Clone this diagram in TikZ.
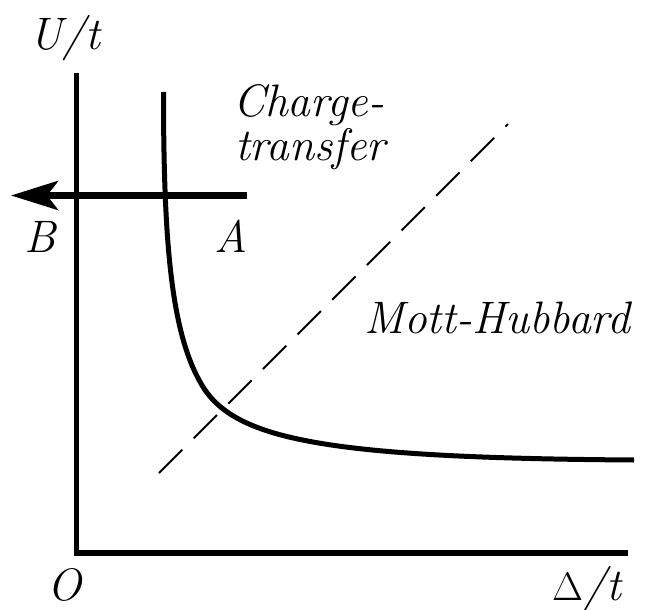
\documentclass[tikz,border=0pt]{standalone}
\usepackage{fontspec}
\usetikzlibrary{arrows.meta}
\begin{document}
\begin{tikzpicture}[x=1pt,y=-1pt,
  lbl/.style={inner sep=0pt, anchor=base west, font=\fontsize{45.5}{50}\selectfont\itshape},
  axisline/.style={line width=5.5pt, line cap=butt, line join=miter},
  curveline/.style={line width=5pt},
  boundary/.style={line width=2pt, dash pattern=on 33pt off 16pt},
  pathline/.style={line width=7pt, -{Stealth[length=47pt,width=29pt,inset=11pt]}}]
\useasboundingbox (0,0) rectangle (651,610);
% axes
\coordinate (ytop) at (76.5,73);
\coordinate (orig) at (76.5,553);
\coordinate (xend) at (628,553);
\draw[axisline] (ytop) -- (orig) -- (xend);
% crossover curve
\coordinate (c0) at (163.5,92);
\coordinate (c1) at (205,390);
\coordinate (c2) at (634,460);
\draw[curveline] (c0) .. controls (163.5,250) and (172,340) .. (c1)
  .. controls (240,440) and (330,458) .. (c2);
% dashed boundary
\coordinate (dA) at (159,473);
\coordinate (dB) at (508,124);
\draw[boundary] (dA) -- (dB);
% arrow A -> B
\coordinate (pA) at (247,195.5);
\coordinate (pB) at (11,195.5);
\draw[pathline] (pA) -- (pB);
% labels
\node[lbl] (lU) at (29,50) {U/t};
\node[lbl] (lB) at (24,252) {B};
\node[lbl] (lA) at (214,252) {A};
\node[lbl] (lC) at (233,117) {Charge-};
\node[lbl] (lT) at (235,160) {transfer};
\node[lbl] (lM) at (364,333) {Mott-Hubbard};
\node[lbl] (lO) at (47,600) {O};
\node[lbl, anchor=base] (lD) at (587,600) {{\upshape\fontsize{40}{44}\selectfont Δ}/t};
\end{tikzpicture}
\end{document}
